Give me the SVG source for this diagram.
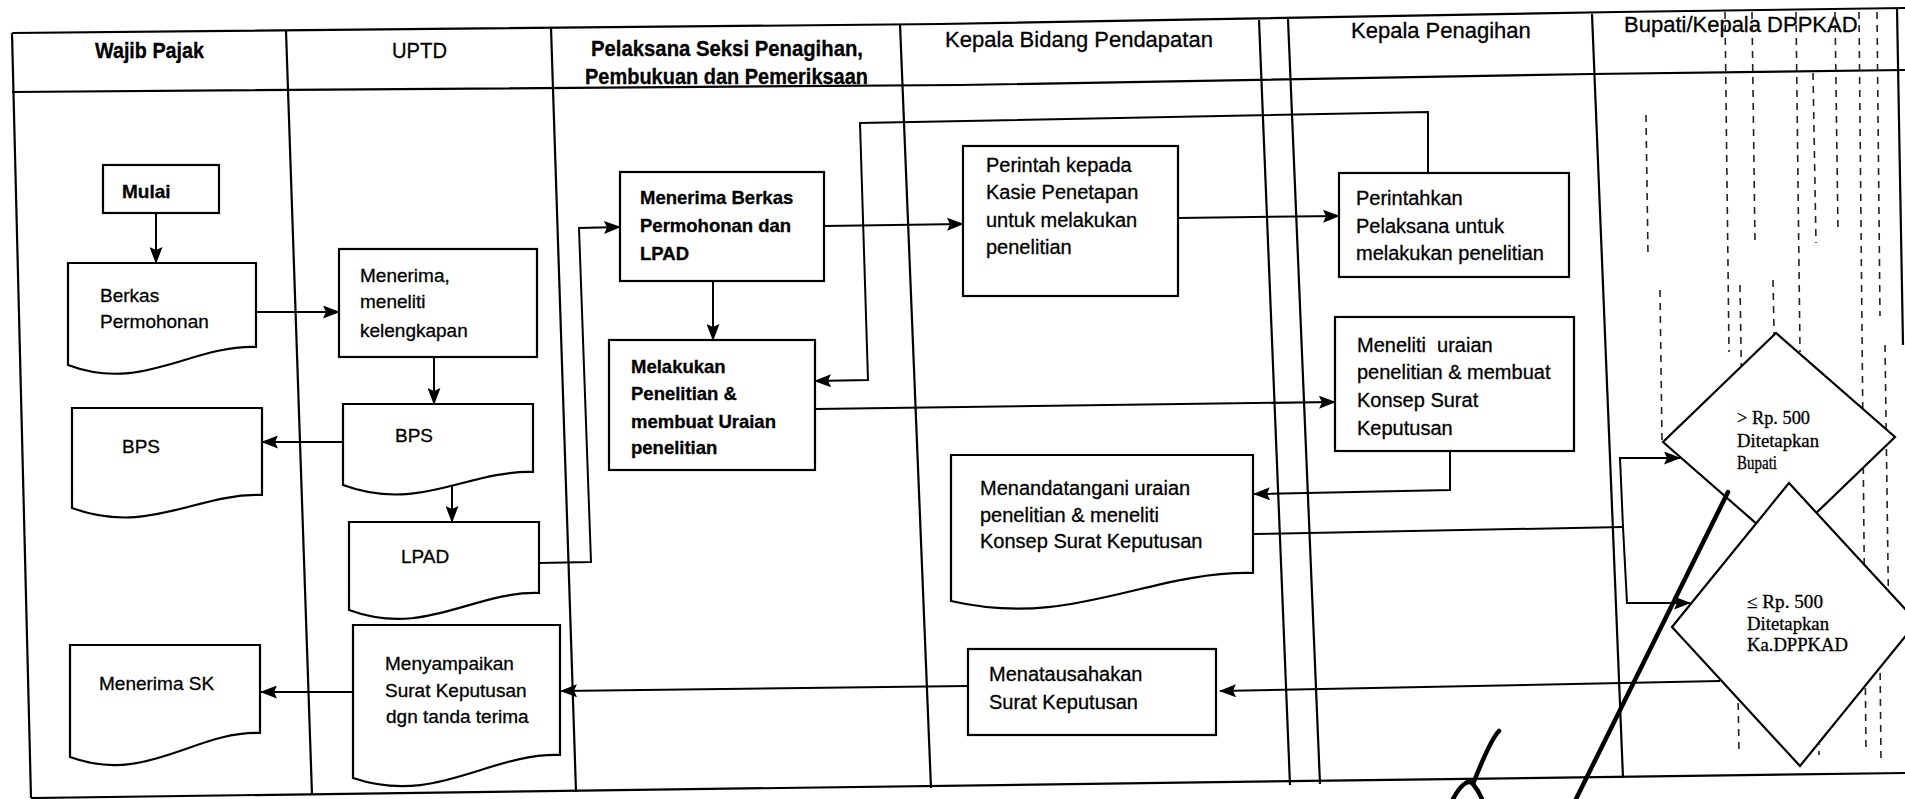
<svg xmlns="http://www.w3.org/2000/svg" width="1905" height="799" viewBox="0 0 1905 799">
<defs>
<marker id="ah" viewBox="0 0 17 13" refX="16" refY="6.5" markerWidth="17" markerHeight="13" markerUnits="userSpaceOnUse" orient="auto"><path d="M0,0 L17,6.5 L0,13 L3,6.5 z" fill="#000"/></marker>
<style>
.frame{fill:none;stroke:#000;stroke-width:2.2}
.box{fill:#fff;stroke:#000;stroke-width:2.2}
.con{fill:none;stroke:#000;stroke-width:2;marker-end:url(#ah)}
.ln{fill:none;stroke:#000;stroke-width:2}
.bleed{fill:none;stroke:#222;stroke-width:1.6;stroke-dasharray:7 6}
.sig{fill:none;stroke:#000;stroke-width:4.5;stroke-linecap:round}
text{font-family:"Liberation Sans",Arial,sans-serif;fill:#000;stroke:#000;stroke-width:0.3}
.h{font-size:22px}
.hb{font-size:22px;font-weight:bold}
.t19{font-size:19px}
.t20{font-size:20px}
.b{font-size:18.5px;font-weight:bold}
.sv{font-family:"Liberation Serif","Times New Roman",serif;font-size:18px}
</style>
</defs>
<rect width="1905" height="799" fill="#fff"/>

<g id="frame">
<polyline class="frame" points="12,33 940,24 1617,12 1905,8"/>
<polyline class="frame" points="12,92 960,85 1592,74 1905,70"/>
<line class="frame" x1="31" y1="798" x2="1905" y2="773"/>
<line class="frame" x1="12" y1="33" x2="31" y2="798"/>
<line class="frame" x1="286" y1="31" x2="312" y2="795"/>
<line class="frame" x1="551" y1="28" x2="576" y2="792"/>
<line class="frame" x1="900" y1="24" x2="931" y2="788"/>
<line class="frame" x1="1259" y1="20" x2="1290" y2="785"/>
<line class="frame" x1="1288" y1="19" x2="1320" y2="784"/>
<line class="frame" x1="1592" y1="14" x2="1623" y2="778"/>
<line class="frame" x1="1897" y1="8" x2="1903" y2="345"/>
</g>

<g id="headers">
<text class="hb" x="95" y="58" textLength="109" lengthAdjust="spacingAndGlyphs">Wajib Pajak</text>
<text class="h" x="392" y="58" textLength="55" lengthAdjust="spacingAndGlyphs">UPTD</text>
<text class="hb" x="591" y="56" textLength="272" lengthAdjust="spacingAndGlyphs">Pelaksana Seksi Penagihan,</text>
<text class="hb" x="585" y="84" textLength="283" lengthAdjust="spacingAndGlyphs">Pembukuan dan Pemeriksaan</text>
<text class="h" x="945" y="47">Kepala Bidang Pendapatan</text>
<text class="h" x="1351" y="38">Kepala Penagihan</text>
<text class="h" x="1624" y="32">Bupati/Kepala DPPKAD</text>
</g>

<g id="bleed-marks">
<line class="bleed" x1="1646" y1="115" x2="1648" y2="255"/>
<line class="bleed" x1="1660" y1="290" x2="1662" y2="440"/>
<line class="bleed" x1="1725" y1="12" x2="1729" y2="352"/>
<line class="bleed" x1="1740" y1="285" x2="1742" y2="410"/>
<line class="bleed" x1="1752" y1="12" x2="1755" y2="243"/>
<line class="bleed" x1="1773" y1="280" x2="1775" y2="380"/>
<line class="bleed" x1="1796" y1="12" x2="1800" y2="352"/>
<line class="bleed" x1="1813" y1="73" x2="1816" y2="243"/>
<line class="bleed" x1="1835" y1="12" x2="1838" y2="231"/>
<line class="bleed" x1="1859" y1="12" x2="1866" y2="753"/>
<line class="bleed" x1="1877" y1="12" x2="1880" y2="316"/>
<line class="bleed" x1="1885" y1="345" x2="1889" y2="640"/>
<line class="bleed" x1="1738" y1="690" x2="1739" y2="752"/>
<line class="bleed" x1="1818" y1="660" x2="1819" y2="755"/>
<line class="bleed" x1="1880" y1="660" x2="1881" y2="760"/>
</g>

<g id="connectors">
<path class="con" d="M156,213 V263"/>
<path class="con" d="M254,312 H339"/>
<path class="con" d="M434,357 V404"/>
<path class="con" d="M343,442 H262"/>
<path class="con" d="M452,484 V522"/>
<path class="con" d="M539,563 L591,562 L579,228 L620,227"/>
<path class="con" d="M713,281 V340"/>
<path class="con" d="M824,226 L963,224"/>
<path class="con" d="M1428,173 V112 L860,123 L868,380 L815,381"/>
<path class="con" d="M1178,218 L1339,216"/>
<path class="con" d="M815,409 L1335,402"/>
<path class="con" d="M1450,451 V490 L1254,494"/>
<path class="ln" d="M1254,534 L1623,527"/>
<path class="con" d="M1623,527 L1620,458 L1680,458"/>
<path class="con" d="M1623,527 L1627,603 L1690,603"/>
<path class="con" d="M1720,681 L1220,691"/>
<path class="con" d="M968,686 L561,691"/>
<path class="con" d="M353,692 H261"/>
</g>

<g id="mulai">
<rect class="box" x="103" y="165" width="116" height="48"/>
<text class="t19" x="122" y="198" font-weight="bold">Mulai</text>
</g>
<g id="berkas">
<path class="box" d="M68,263 H256 V347 C190,345 142,393 68,365 Z"/>
<text class="t19" x="100" y="302">Berkas</text>
<text class="t19" x="100" y="328">Permohonan</text>
</g>
<g id="menerima-meneliti">
<rect class="box" x="339" y="249" width="198" height="108"/>
<text class="t19" x="360" y="282">Menerima,</text>
<text class="t19" x="360" y="308">meneliti</text>
<text class="t19" x="360" y="337">kelengkapan</text>
</g>
<g id="bps-uptd">
<path class="box" d="M343,404 H533 V472 C467,470 419,513 343,485 Z"/>
<text class="t19" x="395" y="442">BPS</text>
</g>
<g id="bps-wajib">
<path class="box" d="M72,408 H262 V495 C196,493 148,536 72,508 Z"/>
<text class="t19" x="122" y="453">BPS</text>
</g>
<g id="lpad">
<path class="box" d="M349,522 H539 V593 C473,591 425,638 349,610 Z"/>
<text class="t19" x="401" y="563">LPAD</text>
</g>
<g id="menyampaikan">
<path class="box" d="M353,625 H560 V755 C488,753 436,806 353,778 Z"/>
<text class="t19" x="385" y="670">Menyampaikan</text>
<text class="t19" x="385" y="697">Surat Keputusan</text>
<text class="t19" x="386" y="723">dgn tanda terima</text>
</g>
<g id="menerima-sk">
<path class="box" d="M70,645 H260 V733 C194,731 146,785 70,757 Z"/>
<text class="t19" x="99" y="690">Menerima SK</text>
</g>
<g id="menerima-berkas">
<rect class="box" x="620" y="172" width="204" height="109"/>
<text class="b" x="640" y="204">Menerima Berkas</text>
<text class="b" x="640" y="232">Permohonan dan</text>
<text class="b" x="640" y="260">LPAD</text>
</g>
<g id="melakukan">
<rect class="box" x="609" y="340" width="206" height="130"/>
<text class="b" x="631" y="373">Melakukan</text>
<text class="b" x="631" y="400">Penelitian &amp;</text>
<text class="b" x="631" y="428">membuat Uraian</text>
<text class="b" x="631" y="454">penelitian</text>
</g>
<g id="perintah-kepada">
<rect class="box" x="963" y="146" width="215" height="150"/>
<text class="t20" x="986" y="172">Perintah kepada</text>
<text class="t20" x="986" y="199">Kasie Penetapan</text>
<text class="t20" x="986" y="227">untuk melakukan</text>
<text class="t20" x="986" y="254">penelitian</text>
</g>
<g id="perintahkan">
<rect class="box" x="1339" y="173" width="230" height="104"/>
<text class="t20" x="1356" y="205">Perintahkan</text>
<text class="t20" x="1356" y="233">Pelaksana untuk</text>
<text class="t20" x="1356" y="260">melakukan penelitian</text>
</g>
<g id="meneliti-uraian">
<rect class="box" x="1335" y="317" width="239" height="134"/>
<text class="t20" x="1357" y="352" xml:space="preserve">Meneliti  uraian</text>
<text class="t20" x="1357" y="379">penelitian &amp; membuat</text>
<text class="t20" x="1357" y="407">Konsep Surat</text>
<text class="t20" x="1357" y="435">Keputusan</text>
</g>
<g id="menandatangani">
<path class="box" d="M951,455 H1253 V573 C1147,571 1072,629 951,601 Z"/>
<text class="t20" x="980" y="495">Menandatangani uraian</text>
<text class="t20" x="980" y="522">penelitian &amp; meneliti</text>
<text class="t20" x="980" y="548">Konsep Surat Keputusan</text>
</g>
<g id="menatausahakan">
<rect class="box" x="968" y="649" width="248" height="86"/>
<text class="t20" x="989" y="681">Menatausahakan</text>
<text class="t20" x="989" y="709">Surat Keputusan</text>
</g>
<g id="diamond-bupati">
<polygon class="box" points="1776,333 1895,437 1782,546 1663,442"/>
<text class="sv" x="1737" y="424" textLength="73" lengthAdjust="spacingAndGlyphs">&gt; Rp. 500</text>
<text class="sv" x="1737" y="447" textLength="82" lengthAdjust="spacingAndGlyphs">Ditetapkan</text>
<text class="sv" x="1737" y="469" textLength="40" lengthAdjust="spacingAndGlyphs">Bupati</text>
</g>
<g id="diamond-kadppkad">
<polygon class="box" points="1789,483 1917,622 1800,766 1672,627"/>
<text class="sv" x="1747" y="608" textLength="76" lengthAdjust="spacingAndGlyphs">≤ Rp. 500</text>
<text class="sv" x="1747" y="630" textLength="82" lengthAdjust="spacingAndGlyphs">Ditetapkan</text>
<text class="sv" x="1747" y="651" textLength="101" lengthAdjust="spacingAndGlyphs">Ka.DPPKAD</text>
</g>

<g id="signature">
<path class="sig" d="M1728,492 L1576,799"/>
<path class="sig" d="M1499,731 C1492,738 1484,756 1473,784"/>
<path class="sig" d="M1453,799 C1460,786 1468,778 1473,784 C1477,789 1480,794 1482,799" stroke-width="3.5"/>
</g>
</svg>
